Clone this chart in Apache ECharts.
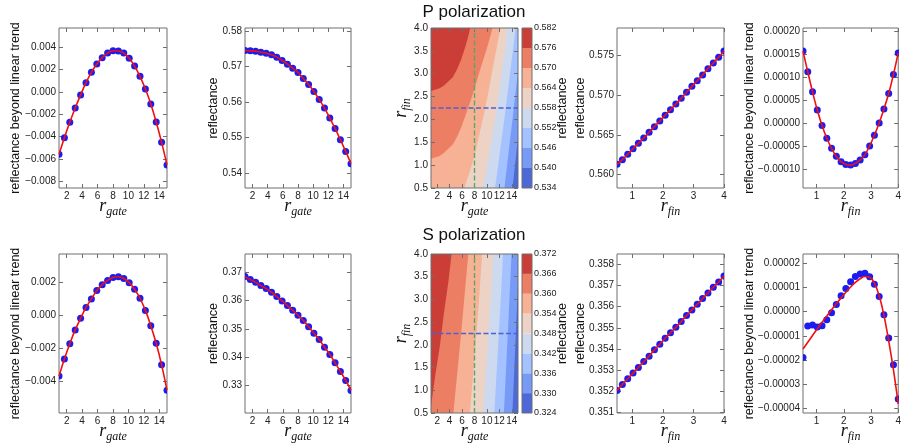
<!DOCTYPE html>
<html><head><meta charset="utf-8">
<script src="https://cdn.jsdelivr.net/npm/echarts@6/dist/echarts.min.js"></script>
<style>html,body{margin:0;padding:0;background:#fff}#c{width:904px;height:445px}</style>
</head><body><div id="c"></div>
<script>
// ---------- data ----------
const R_GATE = [1,1.7,2.4,3.1,3.8,4.5,5.2,5.9,6.6,7.3,8,8.7,9.4,10.1,10.8,11.5,12.2,12.9,13.6,14.3,15];
const R_FIN = [0.5,0.675,0.85,1.025,1.2,1.375,1.55,1.725,1.9,2.075,2.25,2.425,2.6,2.775,2.95,3.125,3.3,3.475,3.65,3.825,4.0];

const P_GATE_RESID = [-0.00559,-0.0041,-0.00273,-0.00145,-0.00029,0.00081,0.00174,0.00248,0.00305,0.00346,0.00367,0.00364,0.00346,0.00299,0.0023,0.00138,0.00025,-0.00109,-0.0027,-0.00452,-0.00654];
const P_GATE_REFL = [0.57447,0.57438,0.57429,0.5740,0.57372,0.57325,0.5726,0.57166,0.57063,0.5695,0.56829,0.5666,0.56492,0.56295,0.5607,0.55827,0.55546,0.55255,0.54937,0.54609,0.54262];
const P_FIN_REFL = [0.56126,0.56185,0.56253,0.56324,0.56392,0.56459,0.56531,0.56603,0.56674,0.56746,0.56817,0.56889,0.56961,0.57037,0.57112,0.57184,0.57256,0.57336,0.57407,0.57479,0.57559];
const P_FIN_RESID = [0.000156,0.000111,0.0000675,0.0000282,-0.0000053,-0.000033,-0.0000548,-0.0000723,-0.000084,-0.0000898,-0.0000913,-0.0000876,-0.0000803,-0.0000687,-0.0000497,-0.0000264,0.0,0.0000303,0.0000638,0.0001053,0.000152];

const S_GATE_RESID = [-0.0037,-0.00265,-0.001725,-0.00088,-0.000175,0.00049,0.00101,0.00152,0.00188,0.00214,0.00232,0.00236,0.00226,0.0020,0.0016,0.00105,0.00031,-0.00062,-0.0017,-0.00301,-0.00456];
const S_GATE_REFL = [0.36847,0.36741,0.36647,0.36529,0.36424,0.36294,0.36141,0.35988,0.35824,0.35659,0.35482,0.35294,0.35071,0.34847,0.34624,0.34353,0.34094,0.338,0.33494,0.33176,0.32824];
const S_FIN_REFL = [0.352038,0.352321,0.352589,0.352856,0.353124,0.353407,0.353658,0.353957,0.354225,0.354508,0.35476,0.355027,0.355294,0.355578,0.355845,0.356112,0.35638,0.356647,0.356915,0.357167,0.35745];
const S_FIN_RESID = [-1.886e-5,-0.595e-5,-0.554e-5,-0.636e-5,-0.58e-5,-0.334e-5,-0.046e-5,0.297e-5,0.654e-5,0.956e-5,1.231e-5,1.45e-5,1.56e-5,1.588e-5,1.437e-5,1.135e-5,0.627e-5,-0.128e-5,-1.09e-5,-2.188e-5,-3.6e-5];
const S_FIN_FIT = [-1.54e-5,-1.26e-5,-0.98e-5,-0.71e-5,-0.44e-5,-0.18e-5,0.08e-5,0.33e-5,0.57e-5,0.8e-5,1.02e-5,1.21e-5,1.36e-5,1.45e-5,1.42e-5,1.18e-5,0.66e-5,-0.15e-5,-1.2e-5,-2.4e-5,-3.8e-5];

const P_LEVELS = [0.534,0.540,0.546,0.552,0.558,0.564,0.570,0.576,0.582];
const S_LEVELS = [0.324,0.330,0.336,0.342,0.348,0.354,0.360,0.366,0.372];
const BAND_COLORS = ['#4d68d7','#779af7','#a3c2ff','#ccd9ee','#ecd3c5','#f7b194','#ec7f63','#cb3e38'];

// contour level lines [r_gate, r_fin]; region to the upper-left is >= level
const P_BOUNDS = [
  null,
  [[13.9,0.3],[14.1,0.5],[14.3,0.72],[15,1.62],[15.5,2.22]],
  [[12.7,0.3],[12.82,0.5],[12.9,0.6],[13.6,1.41],[14.3,2.22],[15,3.07],[15.5,3.65]],
  [[11.1,0.3],[11.3,0.5],[11.5,0.68],[12.2,1.4],[12.9,2.11],[13.6,2.87],[14.3,3.65],[14.6,4.0],[14.7,4.2]],
  [[9.15,0.3],[9.4,0.5],[10.1,1.02],[10.8,1.59],[11.5,2.18],[12.2,2.85],[12.9,3.53],[13.35,4.0],[13.5,4.2]],
  [[6.0,0.3],[6.38,0.5],[6.6,0.6],[7.3,0.89],[8.0,1.2],[8.7,1.62],[9.4,2.04],[10.1,2.5],[10.8,3.02],[11.5,3.52],[12.15,4.0],[12.35,4.2]],
  [[-1,1.08],[1,1.14],[2.4,1.2],[3.1,1.27],[4.5,1.45],[5.2,1.62],[5.9,1.84],[6.6,2.11],[7.3,2.38],[8.0,2.67],[8.7,3.0],[9.4,3.3],[10.1,3.6],[10.6,3.85],[10.9,4.0],[11.1,4.2]],
  [[-1,2.58],[1,2.62],[2.4,2.68],[3.1,2.74],[4.5,2.92],[5.2,3.1],[5.9,3.33],[6.6,3.62],[7.0,3.82],[7.3,4.0],[7.4,4.2]]
];
const S_BOUNDS = [
  null,
  [[13.6,-0.95],[14.3,1.11],[15,3.39],[15.7,5.6]],
  [[12.2,-0.95],[12.9,0.96],[13.6,2.94],[14.3,5.0]],
  [[10.8,-0.49],[11.5,1.26],[12.2,2.94],[12.9,4.84]],
  [[9.2,0.0],[9.4,0.5],[10.1,1.95],[10.8,3.39],[11.5,5.14]],
  [[6.6,-0.49],[7.3,0.58],[8.0,1.72],[8.7,2.94],[9.4,4.38]],
  [[4.3,0.0],[4.5,0.35],[5.2,1.34],[5.9,2.33],[6.6,3.39],[7.3,4.46]],
  [[0.5,0.2],[1,0.65],[1.7,1.34],[2.4,1.95],[3.1,2.71],[3.8,3.39],[4.31,4.0],[4.5,4.2]]
];
const GATE_CUT = 8;
const FIN_CUT = 2.25;

// tick labels
const TICKS_GATE = [2,4,6,8,10,12,14];
const TICKS_FIN = [1,2,3,4];
const TICKS_FIN_CONTOUR = [0.5,1.0,1.5,2.0,2.5,3.0,3.5,4.0];
const TICKS_P_GATE_RESID = [0.004,0.002,0,-0.002,-0.004,-0.006,-0.008];
const TICKS_P_GATE_REFL = [0.58,0.57,0.56,0.55,0.54];
const TICKS_P_FIN_REFL = [0.575,0.570,0.565,0.560];
const TICKS_P_FIN_RESID = [0.0002,0.00015,0.0001,0.00005,0,-0.00005,-0.0001];
const TICKS_S_GATE_RESID = [0.002,0,-0.002,-0.004];
const TICKS_S_GATE_REFL = [0.37,0.36,0.35,0.34,0.33];
const TICKS_S_FIN_REFL = [0.358,0.357,0.356,0.355,0.354,0.353,0.352,0.351];
const TICKS_S_FIN_RESID = [0.00002,0.00001,0,-0.00001,-0.00002,-0.00003,-0.00004];

// ---------- chart ----------
const FONT = '"Liberation Sans", Arial, sans-serif';
const FRAME = '#6e6e6e';
const TXT = '#222';
const PT_COLOR = '#1c1cf0';
const LINE_COLOR = '#f01010';
const MATH_RICH = {
  r: {fontFamily:'"Liberation Serif", serif', fontStyle:'italic', fontSize:18, lineHeight:20, verticalAlign:'top', color:'#111'},
  s: {fontFamily:'"Liberation Serif", serif', fontStyle:'italic', fontSize:12, lineHeight:12, padding:[9,0,0,0], verticalAlign:'top', color:'#111'}
};
function fmt(v, d){ return v.toFixed(d).replace('-', '\u2212'); }

const option = {animation:false, grid:[], xAxis:[], yAxis:[], series:[], graphic:[]};

function addGrid(g){
  option.grid.push({left:g.left, top:g.top, width:g.width, height:g.height, show:true,
    borderColor:FRAME, borderWidth:1, backgroundColor:'rgba(0,0,0,0)'});
  return option.grid.length - 1;
}
function tickStyle(ticks){ return {inside:true, length:4, lineStyle:{color:FRAME, width:1}, customValues:ticks}; }
const NOLINE = {show:false, onZero:false};

function addAxes(gi, p){
  const xi = option.xAxis.length, yi = option.yAxis.length;
  option.xAxis.push({type:'value', gridIndex:gi, position:'bottom', min:p.xMin, max:p.xMax,
    axisLine:NOLINE, splitLine:{show:false}, axisTick:tickStyle(p.xTicks),
    axisLabel:{customValues:p.xTicks, margin:3, fontSize:10, fontFamily:FONT, color:TXT, formatter:v=>fmt(v,p.xDec)},
    name:p.xName, nameLocation:'middle', nameGap:p.xGap, nameMoveOverlap:false, nameTextStyle:{rich:MATH_RICH}});
  option.xAxis.push({type:'value', gridIndex:gi, position:'top', min:p.xMin, max:p.xMax,
    axisLine:NOLINE, splitLine:{show:false}, axisTick:tickStyle(p.xTicks), axisLabel:{show:false}});
  const yName = p.yMath ? {rich:MATH_RICH} : {fontSize:12.5, fontFamily:FONT, color:'#111'};
  option.yAxis.push({type:'value', gridIndex:gi, position:'left', min:p.yMin, max:p.yMax,
    axisLine:NOLINE, splitLine:{show:false}, axisTick:tickStyle(p.yTicks),
    axisLabel:{customValues:p.yTicks, margin:3, fontSize:10, fontFamily:FONT, color:TXT, formatter:v=>fmt(v,p.yDec)},
    name:p.yName, nameLocation:'middle', nameRotate:90, nameGap:p.yGap, nameMoveOverlap:false, nameTextStyle:yName});
  option.yAxis.push({type:'value', gridIndex:gi, position:'right', min:p.yMin, max:p.yMax,
    axisLine:NOLINE, splitLine:{show:false}, axisTick:tickStyle(p.yTicks), axisLabel:{show:false}});
  return {x:xi, y:yi};
}

function addLinePanel(p){
  const gi = addGrid(p);
  const ax = addAxes(gi, p);
  // points drawn as circles clipped to the axes box
  option.series.push({type:'custom', xAxisIndex:ax.x, yAxisIndex:ax.y, silent:true, z:2, clip:true,
    data:p.xs.map((x,i)=>[x,p.ys[i]]),
    renderItem:(params, api)=>{
      const c = api.coord([api.value(0), api.value(1)]);
      return {type:'circle', shape:{cx:c[0], cy:c[1], r:3.5}, style:{fill:PT_COLOR}};
    }});
  option.series.push({type:'line', xAxisIndex:ax.x, yAxisIndex:ax.y, silent:true, z:3,
    data:p.xs.map((x,i)=>[x,p.fit[i]]), smooth:0.4, showSymbol:false, symbol:'none',
    lineStyle:{color:LINE_COLOR, width:1.6}});
}

function addContour(p){
  const gi = addGrid(p);
  const ax = addAxes(gi, {xMin:1, xMax:15, xTicks:TICKS_GATE, xDec:0, xName:'{r|r}{s|gate}', xGap:p.xGap,
    yMin:0.5, yMax:4, yTicks:TICKS_FIN_CONTOUR, yDec:1, yName:'{r|r}{s|fin}', yMath:true, yGap:p.yGap});
  const B = p.bounds;
  option.series.push({type:'custom', xAxisIndex:ax.x, yAxisIndex:ax.y, silent:true, z:-1, clip:true,
    data:BAND_COLORS.map(()=>[1,0.5]),
    renderItem:(params, api)=>{
      const i = params.dataIndex;
      let pts;
      if (!B[i]) pts = [[1,0.5],[15,0.5],[15,4],[1,4]];
      else { const b = B[i]; pts = b.concat([[b[b.length-1][0],6],[-6,6],[-6,b[0][1]]]); }
      return {type:'polygon', shape:{points:pts.map(q=>api.coord(q))}, style:{fill:BAND_COLORS[i], stroke:null}};
    }});
  option.series.push({type:'line', xAxisIndex:ax.x, yAxisIndex:ax.y, silent:true, z:1, showSymbol:false, symbol:'none',
    data:[[GATE_CUT,0.5],[GATE_CUT,4]], lineStyle:{color:'#55a868', width:1.4, type:[5,2.5]}});
  option.series.push({type:'line', xAxisIndex:ax.x, yAxisIndex:ax.y, silent:true, z:1, showSymbol:false, symbol:'none',
    data:[[1,FIN_CUT],[15,FIN_CUT]], lineStyle:{color:'#4c5fd5', width:1.4, type:[5,2.5]}});
  // colorbar
  const L = p.levels;
  const cg = addGrid(p.cb);
  const cx = option.xAxis.length, cy = option.yAxis.length;
  option.xAxis.push({type:'value', gridIndex:cg, min:0, max:1, show:false});
  option.yAxis.push({type:'value', gridIndex:cg, position:'right', min:L[0], max:L[L.length-1],
    axisLine:NOLINE, splitLine:{show:false}, axisTick:{show:false},
    axisLabel:{customValues:L, margin:2, fontSize:9, fontFamily:FONT, color:TXT, formatter:v=>v.toFixed(3)},
    name:'reflectance', nameLocation:'middle', nameRotate:90, nameGap:24, nameMoveOverlap:false,
    nameTextStyle:{fontSize:12.5, fontFamily:FONT, color:'#111'}});
  option.series.push({type:'custom', xAxisIndex:cx, yAxisIndex:cy, silent:true, z:-1,
    data:BAND_COLORS.map((c,i)=>[0.5,(L[i]+L[i+1])/2]),
    renderItem:(params, api)=>{
      const i = params.dataIndex;
      const a = api.coord([0, L[i]]), b = api.coord([1, L[i+1]]);
      return {type:'rect', shape:{x:a[0], y:b[1], width:b[0]-a[0], height:a[1]-b[1]}, style:{fill:BAND_COLORS[i]}};
    }});
  option.graphic.push({type:'text', x:p.titleX, y:p.titleY, style:{text:p.title, align:'center', verticalAlign:'middle',
    fontSize:17, fontFamily:FONT, fill:'#111'}});
}

const rows = [
  {top:28, height:160, gateResid:P_GATE_RESID, gateRefl:P_GATE_REFL, finRefl:P_FIN_REFL, finResid:P_FIN_RESID, finFit:P_FIN_RESID,
   rGateResid:[-0.0086,0.0057], tGateResid:TICKS_P_GATE_RESID, dGateResid:3,
   rGateRefl:[0.5358,0.5808], tGateRefl:TICKS_P_GATE_REFL, dGateRefl:2,
   rFinRefl:[0.55827,0.5785], tFinRefl:TICKS_P_FIN_REFL, dFinRefl:3,
   rFinResid:[-0.000141,0.000206], tFinResid:TICKS_P_FIN_RESID, dFinResid:5,
   levels:P_LEVELS, bounds:P_BOUNDS, title:'P polarization', titleY:12},
  {top:254, height:159, gateResid:S_GATE_RESID, gateRefl:S_GATE_REFL, finRefl:S_FIN_REFL, finResid:S_FIN_RESID, finFit:S_FIN_FIT,
   rGateResid:[-0.00595,0.00375], tGateResid:TICKS_S_GATE_RESID, dGateResid:3,
   rGateRefl:[0.32026,0.37646], tGateRefl:TICKS_S_GATE_REFL, dGateRefl:2,
   rFinRefl:[0.35097,0.35849], tFinRefl:TICKS_S_FIN_REFL, dFinRefl:3,
   rFinResid:[-0.0000418,0.0000238], tFinResid:TICKS_S_FIN_RESID, dFinResid:5,
   levels:S_LEVELS, bounds:S_BOUNDS, title:'S polarization', titleY:235}
];

rows.forEach(r=>{
  const gateX = {xMin:1, xMax:15, xTicks:TICKS_GATE, xDec:0, xName:'{r|r}{s|gate}', xGap:9};
  const finX = {xMin:0.5, xMax:4, xTicks:TICKS_FIN, xDec:0, xName:'{r|r}{s|fin}', xGap:9};
  addLinePanel(Object.assign({left:59, top:r.top, width:108, height:r.height, xs:R_GATE, ys:r.gateResid, fit:r.gateResid,
    yMin:r.rGateResid[0], yMax:r.rGateResid[1], yTicks:r.tGateResid, yDec:r.dGateResid,
    yName:'reflectance beyond linear trend', yGap:37}, gateX));
  addLinePanel(Object.assign({left:245, top:r.top, width:106, height:r.height, xs:R_GATE, ys:r.gateRefl, fit:r.gateRefl,
    yMin:r.rGateRefl[0], yMax:r.rGateRefl[1], yTicks:r.tGateRefl, yDec:r.dGateRefl,
    yName:'reflectance', yGap:25}, gateX));
  addContour({left:431, top:r.top, width:87, height:r.height, xGap:9, yGap:19,
    cb:{left:522, top:r.top, width:10, height:r.height}, levels:r.levels, bounds:r.bounds,
    title:r.title, titleX:474, titleY:r.titleY});
  addLinePanel(Object.assign({left:617, top:r.top, width:107, height:r.height, xs:R_FIN, ys:r.finRefl, fit:r.finRefl,
    yMin:r.rFinRefl[0], yMax:r.rFinRefl[1], yTicks:r.tFinRefl, yDec:r.dFinRefl,
    yName:'reflectance', yGap:30}, finX));
  addLinePanel(Object.assign({left:803, top:r.top, width:107, height:r.height, xs:R_FIN, ys:r.finResid, fit:r.finFit,
    yMin:r.rFinResid[0], yMax:r.rFinResid[1], yTicks:r.tFinResid, yDec:r.dFinResid,
    yName:'reflectance beyond linear trend', yGap:47}, finX));
});

const chart = echarts.init(document.getElementById('c'), null, {renderer:'canvas'});
chart.setOption(option);
</script></body></html>
